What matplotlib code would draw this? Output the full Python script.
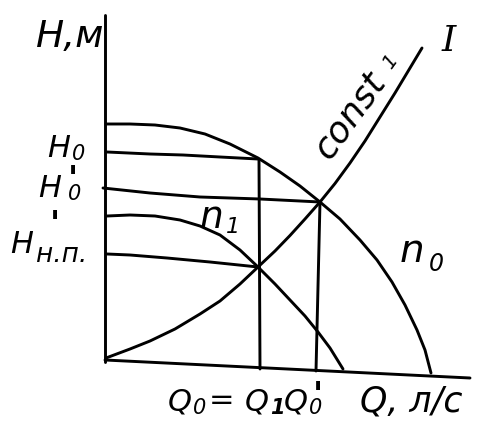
import matplotlib
matplotlib.use("Agg")
import matplotlib.pyplot as plt

# ---- data (Q and H in drawing units) ----
n0_Q = [0.1, 2.5, 5.0, 7.5, 10.0, 12.5, 15.3, 17.5, 19.5, 21.5, 23.5, 25.5, 27.2, 28.7, 30.0, 31.2, 32.0, 32.6]
n0_H = [24.1, 24.1, 24.0, 23.7, 23.1, 22.1, 20.7, 19.3, 17.9, 16.3, 14.6, 12.5, 10.5, 8.3, 6.0, 3.5, 1.5, -0.8]

n1_Q = [0.2, 2.5, 5.0, 7.5, 9.5, 11.5, 13.5, 15.3, 17.0, 18.5, 20.0, 21.3, 22.5, 23.8]
n1_H = [14.9, 15.0, 14.9, 14.5, 13.9, 13.0, 11.5, 9.8, 8.1, 6.5, 4.9, 3.3, 1.7, -0.4]

sysI_Q = [0.1, 2.5, 4.5, 7.0, 9.5, 11.5, 13.5, 15.3, 17.0, 18.5, 20.0, 21.5, 23.0, 24.5, 26.0, 27.5, 29.0, 30.5, 31.7]
sysI_H = [0.7, 1.6, 2.4, 3.6, 5.1, 6.4, 8.1, 9.8, 11.4, 12.95, 14.6, 16.3, 18.15, 20.2, 22.4, 24.8, 27.2, 29.7, 31.7]

h0_Q = [0.2, 4.5, 7.8, 11.5, 15.3]
h0_H = [21.3, 21.1, 21.0, 20.8, 20.6]

h0p_Q = [-0.2, 4.5, 9.5, 15.5, 21.5]
h0p_H = [17.7, 17.2, 16.8, 16.6, 16.3]

hnp_Q = [0.2, 2.5, 6.2, 10.5, 15.3]
hnp_H = [11.1, 11.0, 10.7, 10.3, 9.8]

q1_Q = [15.4, 15.5]
q1_H = [20.5, -0.4]

q0p_Q = [21.5, 21.1]
q0p_H = [16.3, -0.6]

yaxis_Q = [0.0, 0.0]
yaxis_H = [35.0, 0.3]

xaxis_Q = [0.0, 36.5]
xaxis_H = [0.5, -1.3]

fig = plt.figure(figsize=(4.85, 4.25), dpi=100)
ax = fig.add_axes([0, 0, 1, 1])
ax.set_xlim(-10.5, 38.0)
ax.set_ylim(-6.0, 36.5)
ax.axis("off")

lw = 2.1
kw = dict(color="black", lw=lw, solid_capstyle="round", solid_joinstyle="round")
for qs, hs in [(yaxis_Q, yaxis_H), (xaxis_Q, xaxis_H), (n0_Q, n0_H), (n1_Q, n1_H),
               (sysI_Q, sysI_H), (h0_Q, h0_H), (h0p_Q, h0p_H), (hnp_Q, hnp_H),
               (q1_Q, q1_H), (q0p_Q, q0p_H)]:
    ax.plot(qs, hs, **kw)

fam = ["DejaVu Sans"]
t = dict(color="black", family=fam, style="italic")
pr = dict(color="black", family=fam, fontsize=24, fontweight="bold",
          ha="center", va="top")

# axis labels
ax.text(-6.9, 31.8, "H,м", fontsize=27, ha="left", va="baseline", **t)

# H0
ax.text(-5.8, 20.8, "H", fontsize=22, ha="left", va="baseline", **t)
ax.text(-3.3, 20.5, "0", fontsize=15, ha="left", va="baseline", **t)
# H0'
ax.text(-6.7, 16.8, "H", fontsize=22, ha="left", va="baseline", **t)
ax.text(-3.7, 16.5, "0", fontsize=15, ha="left", va="baseline", **t)
ax.text(-3.2, 20.1, "'", **pr)
# H н.п.'
ax.text(-9.5, 11.2, "H", fontsize=22, ha="left", va="baseline", **t)
ax.text(-6.9, 10.3, "н.п.", fontsize=19, ha="left", va="baseline", **t)
ax.text(-5.0, 15.6, "'", **pr)

# curve labels
ax.text(9.5, 13.7, "n", fontsize=27, ha="left", va="baseline", **t)
ax.text(12.1, 13.2, "1", fontsize=16, ha="left", va="baseline", **t)
ax.text(29.5, 10.3, "n", fontsize=28, ha="left", va="baseline", **t)
ax.text(32.4, 9.4, "0", fontsize=17, ha="left", va="baseline", **t)
ax.text(24.5, 25.0, "const", fontsize=26, rotation=54, ha="center", va="center",
        rotation_mode="anchor", **t)
ax.text(28.5, 30.3, "1", fontsize=14, rotation=54, ha="center", va="center", **t)
ax.text(34.4, 32.4, "I", fontsize=26, ha="center", va="center",
        family=["DejaVu Serif"], style="italic", color="black")

# bottom labels
ax.text(6.3, -4.5, "Q", fontsize=22, ha="left", va="baseline", **t)
ax.text(8.8, -4.9, "0", fontsize=15, ha="left", va="baseline", **t)
ax.text(11.7, -3.5, "=", fontsize=22, ha="center", va="center", **t)
ax.text(14.0, -4.5, "Q", fontsize=22, ha="left", va="baseline", **t)
ax.text(16.5, -4.9, "1", fontsize=15, ha="left", va="baseline", fontweight="bold", **t)
ax.text(17.9, -4.5, "Q", fontsize=22, ha="left", va="baseline", **t)
ax.text(20.4, -4.9, "0", fontsize=15, ha="left", va="baseline", **t)
ax.text(21.3, -1.5, "'", **pr)
ax.text(25.5, -4.7, "Q, л/с", fontsize=25, ha="left", va="baseline", **t)

fig.savefig("out.png", dpi=100, facecolor="white")
